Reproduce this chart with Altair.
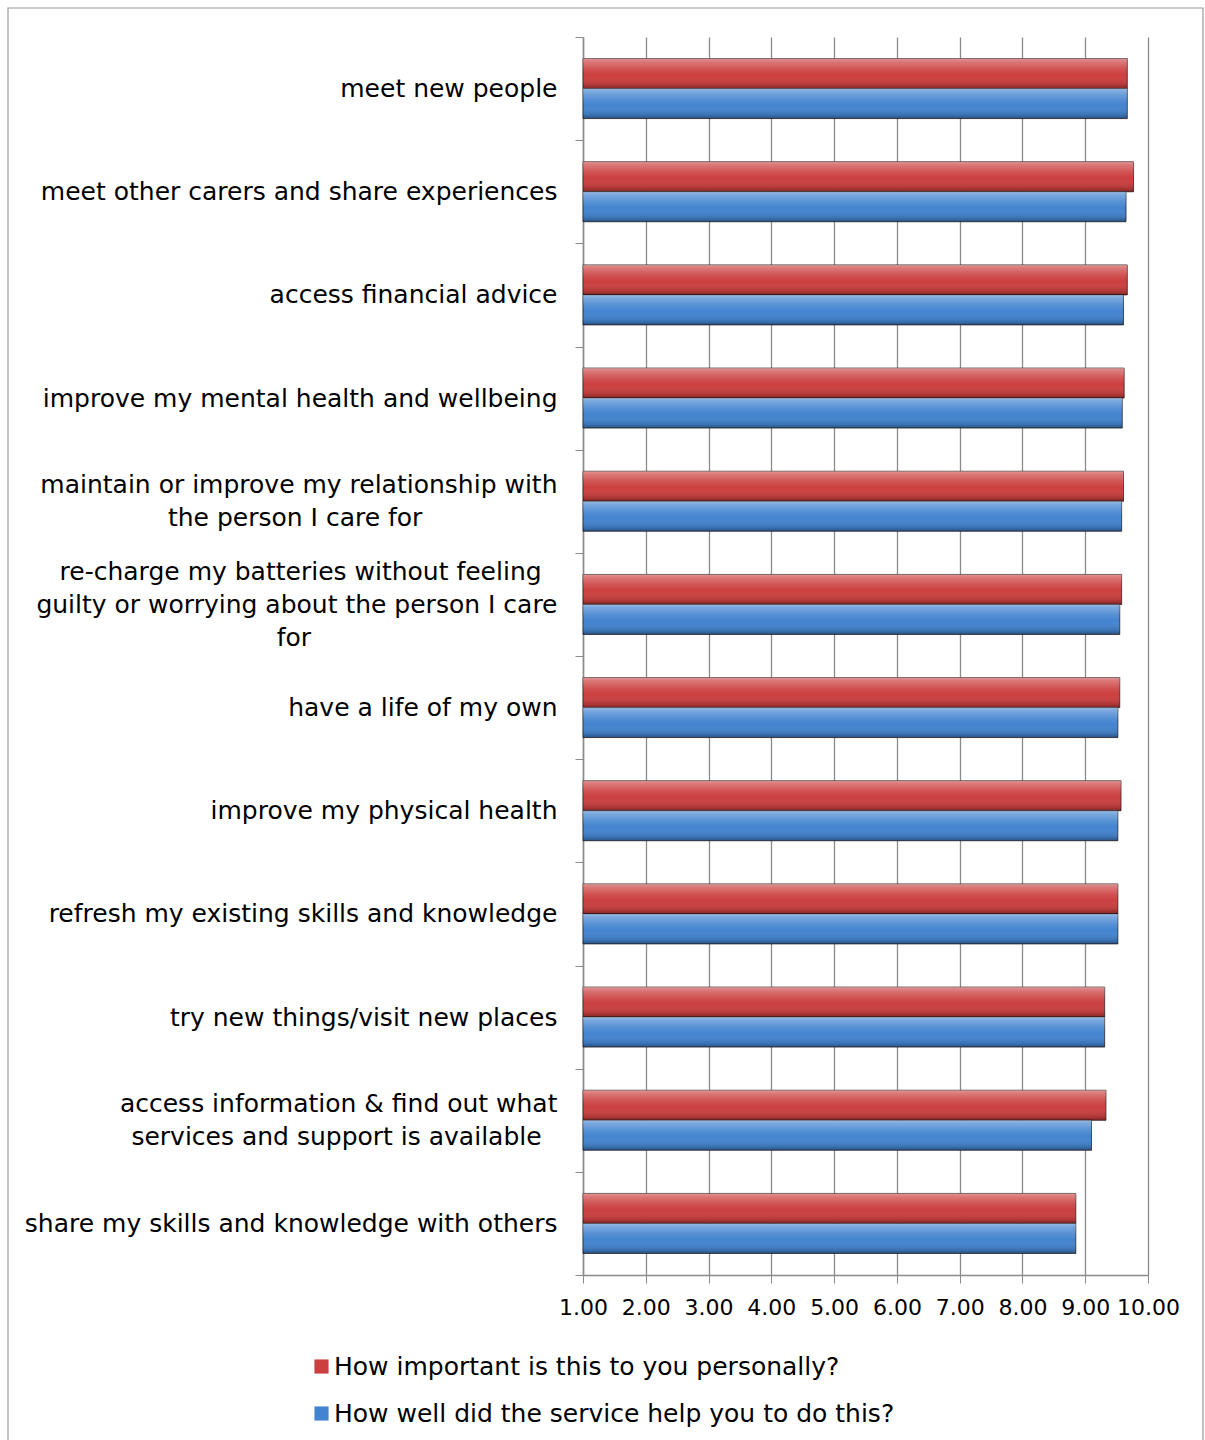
import json
import altair as alt
import pandas as pd

categories = [
    "meet new people",
    "meet other carers and share experiences",
    "access financial advice",
    "improve my mental health and wellbeing",
    "maintain or improve my relationship with the person I care for",
    "re-charge my batteries without feeling guilty or worrying about the person I care for",
    "have a life of my own",
    "improve my physical health",
    "refresh my existing skills and knowledge",
    "try new things/visit new places",
    "access information & find out what services and support is available",
    "share my skills and knowledge with others",
]
important = [9.67, 9.77, 9.67, 9.62, 9.61, 9.58, 9.55, 9.57, 9.52, 9.31, 9.33, 8.85]
helped = [9.67, 9.65, 9.61, 9.59, 9.58, 9.55, 9.52, 9.52, 9.52, 9.31, 9.10, 8.85]
series = ["How important is this to you personally?",
          "How well did the service help you to do this?"]
x_ticks = [1, 2, 3, 4, 5, 6, 7, 8, 9, 10]
axis_min = 1

# wrapped category labels (lines centred on each other, as in the original);
# trailing no-break spaces are protected from trimming by a zero-width space
NB = "\u00a0"
ZW = "\u200b"
label_lines = {
    categories[4]: ["maintain or improve my relationship with",
                    "the person I care for" + NB * 17 + ZW],
    categories[5]: ["re-charge my batteries without feeling" + NB * 2 + ZW,
                    "guilty or worrying about the person I care",
                    "for" + NB * 31 + ZW],
    categories[10]: ["access information & find out what",
                     "services and support is available" + NB * 2 + ZW],
}

rows = []
for c, a, b in zip(categories, important, helped):
    rows.append({"category": c, "series": series[0], "value": a, "base": axis_min})
    rows.append({"category": c, "series": series[1], "value": b, "base": axis_min})
df = pd.DataFrame(rows)

expr = "datum.label"
for k, lines in label_lines.items():
    expr = (f"datum.value == {json.dumps(k, ensure_ascii=False)} ? "
            f"{json.dumps(lines, ensure_ascii=False)} : ({expr})")

three_line = " || ".join(f"datum.value == {json.dumps(k)}"
                         for k, v in label_lines.items() if len(v) == 3)
two_line = " || ".join(f"datum.value == {json.dumps(k)}"
                       for k, v in label_lines.items() if len(v) == 2)

FONT = "DejaVu Sans"
GRAY = "#8a8a8a"
RED = "#cc3f3f"
BLUE = "#4384d0"
LH = 33

label_offset = {
    "condition": [
        {"test": three_line, "value": -LH},
        {"test": two_line, "value": -LH / 2},
    ],
    "value": 0,
}

y_enc = alt.Y(
    "category:N", sort=categories,
    scale=alt.Scale(paddingInner=0, paddingOuter=0),
    axis=alt.Axis(title=None, labelExpr=expr, labelFont=FONT, labelFontSize=25,
                  labelColor="black", labelLineHeight=LH, labelPadding=18,
                  labelLimit=0, tickBand="extent",
                  labelOffset=label_offset, tickSize=8, tickColor=GRAY,
                  domainColor=GRAY, domainWidth=1.5, grid=False,
                  labelAlign="right", labelBaseline="middle"),
)
yoff_enc = alt.YOffset("series:N", sort=series,
                       scale=alt.Scale(paddingInner=0, paddingOuter=0.72))
x_enc = alt.X(
    "value:Q", scale=alt.Scale(domain=[1, 10], zero=False, nice=False),
    axis=alt.Axis(values=x_ticks, format=".2f", title=None, labelFont=FONT,
                  labelFontSize=22, labelColor="black", labelPadding=14,
                  tickSize=8, tickColor=GRAY, domainColor=GRAY, domainWidth=1.5,
                  grid=True, gridColor=GRAY, gridWidth=1.3, labelOverlap=False,
                  labelFlush=False),
)

bars = alt.Chart(df).mark_bar(stroke="#2a1a1a", strokeOpacity=0.75, strokeWidth=1).encode(
    y=y_enc, yOffset=yoff_enc, x=x_enc, x2="base:Q",
    color=alt.Color("series:N", scale=alt.Scale(domain=series, range=[RED, BLUE]),
                    legend=alt.Legend(title=None, orient="none", legendX=-274,
                                      legendY=1317, direction="vertical",
                                      symbolType="square", symbolSize=200,
                                      symbolStrokeWidth=0, labelFont=FONT,
                                      labelFontSize=25, labelColor="black",
                                      rowPadding=21, labelOffset=0, labelLimit=0)),
)

gloss = alt.Gradient(
    gradient="linear", x1=0, y1=0, x2=0, y2=1,
    stops=[
        alt.GradientStop(color="rgba(255,255,255,0.45)", offset=0),
        alt.GradientStop(color="rgba(255,255,255,0.3)", offset=0.1),
        alt.GradientStop(color="rgba(255,255,255,0.1)", offset=0.35),
        alt.GradientStop(color="rgba(255,255,255,0)", offset=0.55),
        alt.GradientStop(color="rgba(0,0,0,0.14)", offset=0.88),
        alt.GradientStop(color="rgba(0,0,0,0.38)", offset=1),
    ],
)
shine = alt.Chart(df).mark_bar(fill=gloss, strokeWidth=0).encode(
    y=alt.Y("category:N", sort=categories), yOffset=alt.YOffset("series:N", sort=series),
    x="value:Q", x2="base:Q",
)

border = alt.Chart(alt.Data(values=[{}])).mark_rect(
    fillOpacity=0, stroke="#9a9a9a", strokeWidth=1.2
).encode(x=alt.value(-575), x2=alt.value(620), y=alt.value(-29), y2=alt.value(1420))

chart = alt.layer(border, bars, shine).properties(
    width=565, height=1238,
    padding={"left": 583, "top": 37, "right": 57, "bottom": 165},
    autosize=alt.AutoSizeParams(type="none"),
    background="white",
).configure_view(strokeWidth=0)

chart.save("out.html", embed_options={"renderer": "svg", "actions": False})
